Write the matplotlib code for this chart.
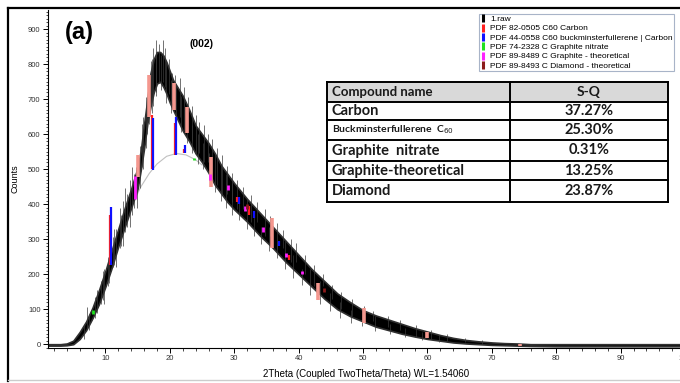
import matplotlib
matplotlib.use("Agg")
import matplotlib.pyplot as plt
from matplotlib.lines import Line2D
from matplotlib.patches import Rectangle
from matplotlib.ticker import MultipleLocator

# raw scan, given as lower / upper edge of the noisy trace
two_theta = [1, 3, 4, 5, 6, 7, 8, 9, 10, 11, 12, 13, 14, 15, 15.5, 16, 16.5, 17, 17.5,
             18, 18.5, 19, 19.5, 20, 20.5, 21, 22, 23, 24, 25, 26, 27, 28, 29, 30, 32,
             34, 36, 38, 40, 42, 44, 46, 48, 50, 52, 54, 56, 58, 60, 62, 64, 66, 68,
             70, 72, 74, 76, 80, 90, 100]
counts_low = [-4, -4, -3, 0, 15, 40, 75, 115, 165, 220, 280, 335, 390, 445, 500, 560,
              630, 680, 720, 745, 750, 735, 715, 690, 670, 650, 610, 580, 545, 520, 490,
              455, 430, 405, 385, 350, 310, 275, 235, 200, 165, 130, 100, 80, 65, 50, 40,
              30, 22, 15, 10, 5, 2, 0, -2, -3, -4, -5, -6, -6, -6]
counts_high = [0, 0, 2, 10, 35, 65, 105, 155, 210, 270, 330, 390, 445, 505, 555, 630,
               700, 775, 815, 835, 835, 825, 805, 780, 755, 740, 710, 670, 625, 600, 575,
               545, 510, 485, 460, 415, 375, 335, 295, 255, 215, 180, 145, 120, 97, 82,
               70, 58, 46, 36, 26, 18, 12, 8, 5, 3, 2, 0, 0, 0, 0]

# single noise spikes sticking out of the trace: (2theta, tip)
spikes_up = [(6.6, 55), (7.4, 85), (8.4, 135), (9.3, 180), (9.8, 215), (10.4, 250),
             (11.2, 305), (11.6, 330), (12.4, 370), (12.8, 410), (13.4, 430), (13.8, 468),
             (14.4, 485), (14.9, 525), (15.4, 565), (15.9, 650), (16.3, 705), (16.7, 770),
             (17.0, 810), (17.4, 845), (17.8, 870), (18.3, 858), (18.9, 868), (19.3, 845),
             (19.8, 815), (20.3, 775), (20.8, 770), (21.6, 760), (22.2, 735), (22.8, 705),
             (23.4, 680), (24.1, 655), (24.6, 635), (25.3, 625), (25.9, 600), (26.6, 585),
             (27.3, 560), (28.1, 540), (28.8, 510), (29.6, 490), (30.5, 470), (31.4, 450),
             (32.6, 425), (33.5, 405), (34.7, 385), (35.5, 365), (36.7, 345), (37.6, 325),
             (38.8, 300), (39.6, 290), (41.0, 255), (42.4, 225), (43.7, 200), (45.2, 170),
             (46.6, 150), (48.3, 130), (50.1, 110), (51.5, 95), (53.8, 82), (55.7, 68),
             (58.2, 55), (60.5, 42), (63.0, 30), (65.8, 18), (68.5, 12)]
spikes_down = [(7.2, 45), (8.7, 90), (9.6, 125), (10.6, 175), (11.4, 225), (12.2, 275),
               (13.1, 320), (14.1, 370), (14.8, 420), (15.7, 505), (16.5, 600), (17.2, 660),
               (17.9, 710), (18.6, 725), (19.4, 690), (20.1, 660), (20.9, 630), (21.7, 605),
               (22.6, 575), (23.5, 545), (24.4, 515), (25.2, 500), (26.1, 470), (27.0, 435),
               (27.9, 410), (28.7, 390), (29.6, 370), (30.8, 355), (31.9, 330), (33.1, 310),
               (34.2, 285), (35.4, 265), (36.6, 245), (37.8, 215), (39.1, 190), (40.5, 170),
               (41.8, 140), (43.3, 115), (44.9, 95), (46.4, 75), (48.1, 60), (49.8, 52),
               (51.9, 38), (54.2, 30), (56.5, 20), (59.1, 12), (61.8, 5)]

# amorphous background hump
bg_theta = [14.6, 15.5, 16.8, 18, 19.5, 21, 22.5, 24, 25]
bg_counts = [415, 450, 488, 515, 537, 545, 541, 527, 512]

# reference sticks: (2theta, bottom, top)
carbon = [(10.75, 226, 369), (17.2, 500, 655), (20.8, 540, 631), (22.25, 545, 558),
          (30.5, 405, 420), (32.3, 370, 395), (38.5, 240, 255)]
buckyball = [(10.9, 226, 392), (17.4, 497, 645), (21.0, 540, 650), (22.4, 545, 568),
             (30.8, 400, 420), (33.0, 360, 380), (37.0, 280, 295)]
graphite_nitrate = [(8.0, 85, 97), (23.8, 525, 532)]
graphite_theor = [(14.6, 415, 480), (26.3, 470, 485), (29.0, 440, 455), (31.7, 380, 395),
                  (34.5, 320, 335), (38.0, 250, 262), (40.5, 200, 210)]
diamond = [(32.0, 385, 400), (43.9, 150, 160)]
highlight = [(15.1, 477, 540), (16.8, 650, 770), (20.7, 670, 745), (22.7, 603, 677),
             (26.4, 449, 534), (35.9, 274, 360), (43.0, 126, 174), (50.2, 60, 103),
             (59.9, 17, 34), (74.3, -5, 0)]

legend_labels = ["1.raw", "PDF 82-0505 C60 Carbon",
                 "PDF 44-0558 C60 buckminsterfullerene | Carbon",
                 "PDF 74-2328 C Graphite nitrate",
                 "PDF 89-8489 C Graphite - theoretical",
                 "PDF 89-8493 C Diamond - theoretical"]
legend_colors = ["black", "#ff2020", "#1010ff", "#20e020", "#ff20ff", "#8b1a1a"]

table_names = ["Carbon", "Buckminsterfullerene", "Graphite  nitrate",
               "Graphite-theoretical", "Diamond"]
table_sq = ["37.27%", "25.30%", "0.31%", "13.25%", "23.87%"]

W, H = 680, 383
fig = plt.figure(figsize=(W / 100, H / 100), dpi=100)
plt.rcParams['font.family'] = ['Liberation Sans', 'DejaVu Sans']

# frame around the whole panel
fig.add_artist(Line2D([8 / W, 8 / W], [2 / H, 1 - 8 / H], transform=fig.transFigure,
                      color="black", lw=1.6))
fig.add_artist(Line2D([8 / W, 1], [1 - 8 / H, 1 - 8 / H], transform=fig.transFigure,
                      color="black", lw=1.6))
fig.add_artist(Line2D([8 / W, 1], [3 / H, 3 / H], transform=fig.transFigure,
                      color="#cccccc", lw=1.0))

ax = fig.add_axes([47.5 / W, 1 - 347.7 / H, 637.6 / W, 337.7 / H])
ax.set_xlim(1, 100)
ax.set_ylim(-10, 955)

ax.fill_between(two_theta, counts_low, counts_high, color="black", lw=1.2,
                edgecolor="#303030", zorder=2)
for x, tip in spikes_up:
    base = [lo for t, lo in zip(two_theta, counts_low) if t <= x][-1]
    ax.vlines(x, base, tip, color="#3a3a3a", lw=0.5, zorder=2)
for x, tip in spikes_down:
    base = [hi for t, hi in zip(two_theta, counts_high) if t >= x][0]
    ax.vlines(x, tip, base, color="#3a3a3a", lw=0.5, zorder=2)
ax.plot(bg_theta, bg_counts, color="#c0c0c0", lw=0.8, zorder=1)

for x, lo, hi in highlight:
    ax.vlines(x, lo, hi, color="#f4978e", lw=2.6, zorder=3)
for sticks, col, lw in [(carbon, "#ff2020", 1.6), (buckyball, "#1010ff", 1.6),
                        (graphite_nitrate, "#20e020", 2.0), (graphite_theor, "#ff20ff", 2.0),
                        (diamond, "#8b1a1a", 2.0)]:
    for x, lo, hi in sticks:
        ax.vlines(x, lo, hi, color=col, lw=lw, zorder=4)

for side in ["top", "right"]:
    ax.spines[side].set_visible(False)
ax.spines["left"].set_linewidth(0.8)
ax.spines["bottom"].set_linewidth(0.8)
ax.xaxis.set_major_locator(MultipleLocator(10))
ax.xaxis.set_minor_locator(MultipleLocator(2))
ax.yaxis.set_major_locator(MultipleLocator(100))
ax.yaxis.set_minor_locator(MultipleLocator(10))
ax.set_xticks(range(10, 101, 10))
ax.set_yticks(range(0, 901, 100))
ax.tick_params(which="major", direction="out", length=3.5, width=0.7,
               labelsize=5.5, labelcolor="#333333", pad=1.5)
ax.tick_params(which="minor", direction="out", length=1.8, width=0.5)
ax.set_ylabel("Counts", fontsize=6.5, labelpad=6)
ax.set_xlabel("2Theta (Coupled TwoTheta/Theta) WL=1.54060", fontsize=7, labelpad=5)

fig.text(65 / W, 1 - 33 / H, "(a)", fontsize=17, fontweight="bold",
         family="Liberation Sans", va="center")
fig.text(189 / W, 1 - 44 / H, "(002)", fontsize=7.5, fontweight="bold", va="center")

handles = [Line2D([], [], color=c, marker="|", linestyle="none", markersize=6,
                  markeredgewidth=2.2) for c in legend_colors]
leg = fig.legend(handles, legend_labels, loc="upper left",
                 bbox_to_anchor=(479 / W, 1 - 14 / H), fontsize=6.0, frameon=True,
                 fancybox=False, edgecolor="#a8b4c8", framealpha=1,
                 handlelength=0.6, handletextpad=0.6, labelspacing=0.18,
                 borderpad=0.15, borderaxespad=0)
leg.get_frame().set_linewidth(0.8)

# S-Q table
x0, x1, x2 = 327, 510, 668
rows = [82, 102, 120, 140, 161, 180, 202]
fig.add_artist(Rectangle((x0 / W, 1 - rows[1] / H), (x2 - x0) / W, (rows[1] - rows[0]) / H,
                         transform=fig.transFigure, facecolor="#d9d9d9", edgecolor="none"))
for y in rows:
    fig.add_artist(Line2D([x0 / W, x2 / W], [1 - y / H, 1 - y / H],
                          transform=fig.transFigure, color="black", lw=1.4))
for x in [x0, x1, x2]:
    fig.add_artist(Line2D([x / W, x / W], [1 - rows[0] / H, 1 - rows[-1] / H],
                          transform=fig.transFigure, color="black", lw=1.4))

tfont = dict(family="Lato", fontweight="bold", va="center", color="#1a1a1a")
fig.text((x0 + 5) / W, 1 - (rows[0] + rows[1]) / 2 / H, "Compound name", fontsize=9.5, **tfont)
fig.text((x1 + x2) / 2 / W, 1 - (rows[0] + rows[1]) / 2 / H, "S-Q", fontsize=10,
         ha="center", **tfont)
for i, (name, sq) in enumerate(zip(table_names, table_sq)):
    yc = 1 - (rows[i + 1] + rows[i + 2]) / 2 / H
    if name == "Buckminsterfullerene":
        fig.text((x0 + 5) / W, yc, name + r"  C$_{60}$", fontsize=7.5, **tfont)
    else:
        fig.text((x0 + 5) / W, yc, name, fontsize=10.5, **tfont)
    fig.text((x1 + x2) / 2 / W, yc, sq, fontsize=10.5, ha="center", **tfont)

fig.savefig("out.png", dpi=100)
